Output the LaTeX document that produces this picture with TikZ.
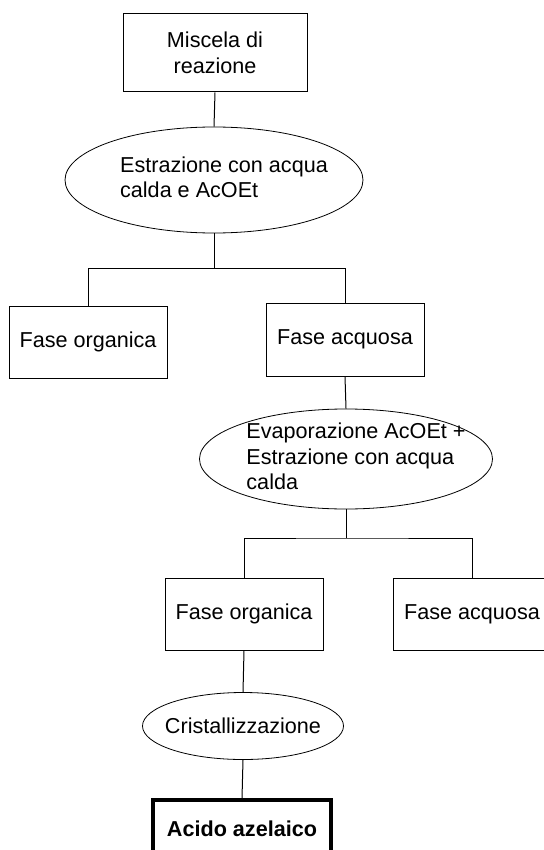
\documentclass[tikz,border=0pt]{standalone}
\usepackage{fontspec}
\setmainfont{Liberation Sans}
\usepackage{tikz}
\usetikzlibrary{shapes.geometric}

% text block pushed a little to the right inside the ellipses
\newcommand{\offtext}[1]{\begin{tabular}{@{\hspace{20pt}}l@{}}#1\end{tabular}}

\begin{document}
\begin{tikzpicture}[
    x=1pt, y=-1pt,
    fase/.style={draw, line width=1pt, minimum width=158pt, minimum height=72pt, inner sep=0pt, align=center, font=\fontsize{21.6pt}{25.5pt}\selectfont},
    op/.style={draw, ellipse, line width=0.8pt, inner xsep=-25pt, inner ysep=-8pt, font=\fontsize{21.6pt}{25.5pt}\selectfont},
    res/.style={fase, line width=3.6pt, minimum width=178pt, minimum height=58pt, font=\fontsize{21.6pt}{25.5pt}\selectfont\bfseries},
    link/.style={line width=1pt}
]
\useasboundingbox (0,0) rectangle (543,850);

% start
\node[fase, minimum width=184pt, minimum height=78pt] (mix) at (215,53) {Miscela di\\reazione};

% first extraction
\node[op, minimum width=298pt, minimum height=106pt] (ell1) at (214,180) {\offtext{Estrazione con acqua\\calda e AcOEt}};
\node[fase] (orgA) at (88,342) {Fase organica};
\node[fase, minimum height=73pt] (aqA) at (345,339.5) {Fase acquosa};

% second extraction
\node[op, minimum width=293pt, minimum height=100pt] (ell2) at (346,459) {\offtext{Evaporazione AcOEt +\\Estrazione con acqua\\calda}};
\node[fase] (orgB) at (244,614) {Fase organica};
\node[fase] (aqB) at (472,614) {Fase acquosa};

% product
\node[op, minimum width=201pt, minimum height=67pt] (cryst) at (243,726) {Cristallizzazione};
\node[res] (acid) at (242,829) {Acido azelaico};

% connectors
\coordinate (split1) at (214,268.5);
\coordinate (split2) at (346,538);
\draw[link] (mix.south) -- (ell1.north);
\draw[link] (ell1.south) -- (split1);
\draw[link] (orgA.north) |- (split1) -| (aqA.north);
\draw[link] (aqA.south) -- (ell2.north);
\draw[link] (ell2.south) -- (split2);
\draw[link] (orgB.north) |- (split2) -| (aqB.north);
\draw[link] (orgB.south) -- (cryst.north);
\draw[link] (cryst.south) -- (acid.north);

\end{tikzpicture}
\end{document}
